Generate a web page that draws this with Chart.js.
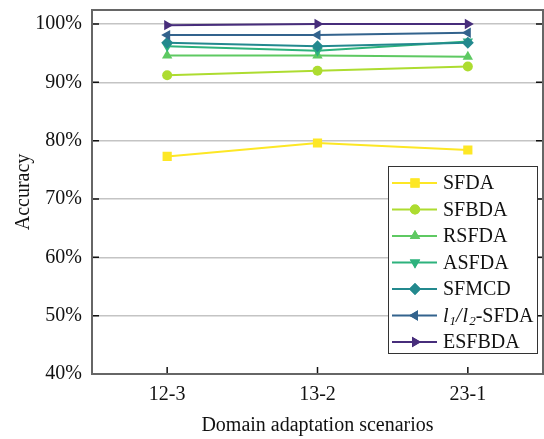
<!DOCTYPE html>
<html>
<head>
<meta charset="utf-8">
<script src="https://cdn.jsdelivr.net/npm/chart.js@4/dist/chart.umd.min.js"></script>
<style>
  html, body { margin: 0; padding: 0; background: #fff; }
  #wrap { width: 544px; height: 439px; }
</style>
</head>
<body>
<div id="wrap"><canvas id="lineChart"></canvas></div>
<script>
const scenarios = ['12-3', '13-2', '23-1'];
const yTicks = [40, 50, 60, 70, 80, 90, 100];

const names = ['SFDA', 'SFBDA', 'RSFDA', 'ASFDA', 'SFMCD', 'l1/l2-SFDA', 'ESFBDA'];
const sfda = [77.3, 79.6, 78.4];
const sfbda = [91.2, 92.0, 92.7];
const rsfda = [94.6, 94.6, 94.4];
const asfda = [96.2, 95.4, 97.0];
const sfmcd = [96.8, 96.2, 96.8];
const l1l2 = [98.1, 98.1, 98.5];
const esfbda = [99.8, 100.0, 100.0];

const colors = ['#fde725', '#addc30', '#5ec962', '#2db27d', '#23898e', '#33638d', '#472d7b'];
const markers = [
    { style: 'rect', radius: 6.5, rotation: 0 },
    { style: 'circle', radius: 5, rotation: 0 },
    { style: 'triangle', radius: 6, rotation: 0 },
    { style: 'triangle', radius: 6, rotation: 180 },
    { style: 'rectRot', radius: 6, rotation: 0 },
    { style: 'triangle', radius: 6, rotation: 270 },
    { style: 'triangle', radius: 6, rotation: 90 }
];
const series = [sfda, sfbda, rsfda, asfda, sfmcd, l1l2, esfbda];

const serif = '"Liberation Serif", "Times New Roman", serif';
Chart.defaults.font.family = serif;
Chart.defaults.font.size = 20;
Chart.defaults.color = '#111';

// italic l with subscript digit for the l1/l2 entry
function drawLabel(ctx, text, x, y) {
    const m = text.match(/^l(\d)\/l(\d)(.*)$/);
    const parts = m
        ? [['l', 'i'], [m[1], 's'], ['/', 'i'], ['l', 'i'], [m[2], 's'], [m[3], '']]
        : [[text, '']];
    parts.forEach(([t, k]) => {
        if (k === 's') ctx.font = 'italic 13px ' + serif;
        else if (k === 'i') ctx.font = 'italic 20px ' + serif;
        else ctx.font = '20px ' + serif;
        ctx.fillText(t, x, k === 's' ? y + 5 : y);
        x += ctx.measureText(t).width + (k === 'i' ? 1 : 0);
    });
}

const frameAndLegend = {
    id: 'frameAndLegend',
    afterDraw(chart) {
        const { ctx, chartArea: a, scales: { x, y } } = chart;
        ctx.save();

        // inward tick marks
        ctx.strokeStyle = '#111';
        ctx.lineWidth = 1.5;
        ctx.beginPath();
        y.ticks.forEach((t, i) => {
            const py = y.getPixelForTick(i);
            ctx.moveTo(a.left, py); ctx.lineTo(a.left + 7, py);
            ctx.moveTo(a.right - 7, py); ctx.lineTo(a.right, py);
        });
        x.ticks.forEach((t, i) => {
            const px = x.getPixelForTick(i);
            ctx.moveTo(px, a.bottom); ctx.lineTo(px, a.bottom - 7);
        });
        ctx.stroke();

        // plot frame
        ctx.strokeStyle = '#666';
        ctx.lineWidth = 2;
        ctx.strokeRect(a.left, a.top, a.right - a.left, a.bottom - a.top);

        // legend box in the lower right
        const bw = 149, bh = 187;
        const bx = a.right - 6 - bw, by = a.bottom - 21 - bh;
        ctx.fillStyle = '#fff';
        ctx.fillRect(bx, by, bw, bh);
        ctx.strokeStyle = '#333';
        ctx.lineWidth = 1;
        ctx.strokeRect(bx + 0.5, by + 0.5, bw, bh);

        chart.data.datasets.forEach((ds, i) => {
            const ly = by + 17 + i * 26.5;
            ctx.strokeStyle = ds.borderColor;
            ctx.lineWidth = 2;
            ctx.beginPath();
            ctx.moveTo(bx + 4, ly); ctx.lineTo(bx + 49, ly);
            ctx.stroke();
            ctx.fillStyle = ds.backgroundColor;
            Chart.helpers.drawPoint(ctx, {
                pointStyle: ds.pointStyle,
                radius: ds.pointRadius,
                rotation: ds.pointRotation,
                borderWidth: 0
            }, bx + 27, ly);
            ctx.fill();
            ctx.fillStyle = '#111';
            ctx.textBaseline = 'middle';
            ctx.textAlign = 'left';
            drawLabel(ctx, ds.label, bx + 55, ly + 1);
        });
        ctx.restore();
    }
};

new Chart(document.getElementById('lineChart'), {
    type: 'line',
    data: {
        labels: scenarios,
        datasets: series.map((values, i) => ({
            label: names[i],
            data: values,
            borderColor: colors[i],
            backgroundColor: colors[i],
            borderWidth: 2,
            pointStyle: markers[i].style,
            pointRadius: markers[i].radius,
            pointRotation: markers[i].rotation,
            pointBorderWidth: 0,
            pointHoverRadius: markers[i].radius,
            tension: 0,
            order: names.length - i
        }))
    },
    options: {
        responsive: true,
        maintainAspectRatio: false,
        animation: false,
        layout: { autoPadding: false, padding: { left: 0, right: 1, top: 10, bottom: 0 } },
        plugins: {
            legend: { display: false },
            tooltip: { enabled: false }
        },
        scales: {
            x: {
                offset: true,
                grid: { display: false, drawTicks: false },
                border: { display: false },
                ticks: { padding: 9, font: { family: serif, size: 20 } },
                title: {
                    display: true,
                    text: 'Domain adaptation scenarios',
                    font: { family: serif, size: 20 },
                    padding: { top: 0, bottom: 1 }
                },
                afterFit(scale) {
                    scale.height = 65;
                    scale.paddingLeft = 0;
                    scale.paddingRight = 0;
                }
            },
            y: {
                min: 40,
                max: 102.4,
                afterBuildTicks(scale) { scale.ticks = yTicks.map(v => ({ value: v })); },
                grid: { color: '#c4c4c4', lineWidth: 1.5, drawTicks: false },
                border: { display: false },
                ticks: {
                    padding: 10,
                    font: { family: serif, size: 20 },
                    callback: v => v + '%'
                },
                title: {
                    display: true,
                    text: 'Accuracy',
                    font: { family: serif, size: 20 },
                    padding: { top: 12, bottom: 0 }
                },
                afterFit(scale) {
                    scale.width = 92;
                    scale.paddingTop = 0;
                    scale.paddingBottom = 0;
                }
            }
        }
    },
    plugins: [frameAndLegend]
});
</script>
</body>
</html>
